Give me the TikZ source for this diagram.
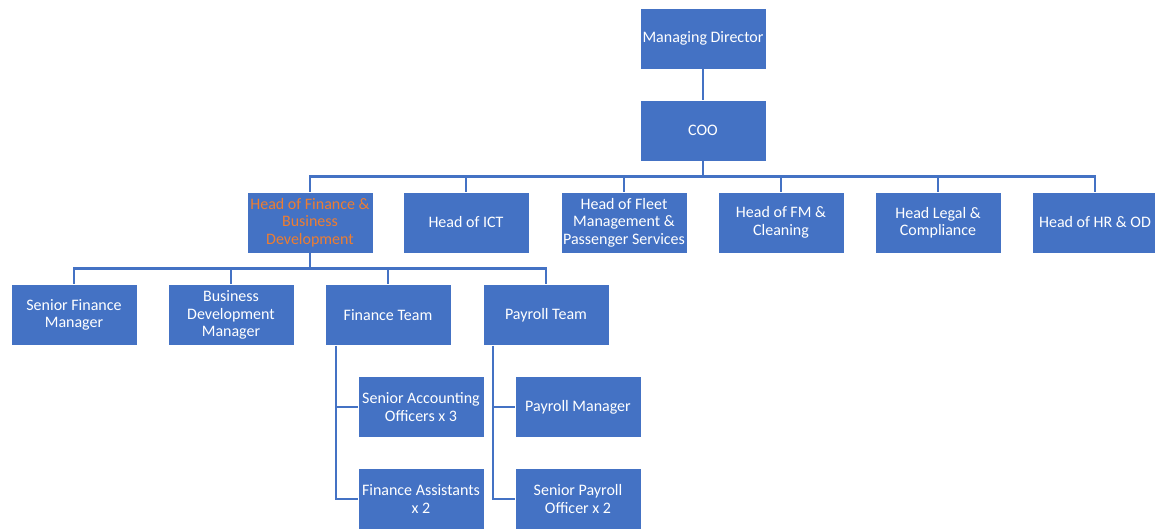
\documentclass[tikz,border=0pt]{standalone}
\usepackage{fontspec}
\setmainfont{Carlito}
\definecolor{boxblue}{HTML}{4472C4}
\definecolor{hilite}{HTML}{ED7D31}
\tikzset{
  post/.style={fill=boxblue, draw=white, line width=.4pt, text=white,
    minimum width=2.52cm, minimum height=1.22cm, inner sep=1pt,
    align=center, font=\fontsize{9.1}{9.9}\selectfont},
  link/.style={draw=boxblue, line width=1.6pt}
}
\begin{document}
\begin{tikzpicture}[x=0.02cm,y=-0.02cm]
  \useasboundingbox (0,0) rectangle (1155,530);
  % top
  \node[post] (md) at (703,38.5) {Managing Director};
  \node[post] (coo) at (703,130.5) {COO};
  \draw[link] (md) -- (coo);
  % heads
  \node[post,text=hilite] (fin) at (310,222.5) {Head of Finance \&\\Business\\Development};
  \foreach \n/\x/\t in {ict/466/Head of ICT,
      fleet/624/Head of Fleet\\Management \&\\Passenger Services,
      fm/781/Head of FM \&\\Cleaning,
      legal/938/Head Legal \&\\Compliance,
      hr/1095/Head of HR \& OD}
    \node[post] (\n) at (\x,222.5) {\t};
  \foreach \n in {fin,ict,fleet,fm,legal,hr}
    \draw[link] (coo.south) -- ++(0,15) -| (\n.north);
  % finance
  \node[post] (sfm) at (74,315) {Senior Finance\\Manager};
  \node[post] (bdm) at (231,315) {Business\\Development\\Manager};
  \node[post] (ft) at (388,315) {Finance Team};
  \node[post] (pt) at (546,315) {Payroll Team};
  \foreach \n in {sfm,bdm,ft,pt}
    \draw[link] (fin.south) -- ++(0,15) -| (\n.north);
  \node[post] (sao) at (421,407) {Senior Accounting\\Officers x 3};
  \node[post] (fa) at (421,499) {Finance Assistants\\x 2};
  \node[post] (pm) at (578,407) {Payroll Manager};
  \node[post] (spo) at (578,499) {Senior Payroll\\Officer x 2};
  \foreach \n in {sao,fa}
    \draw[link] (ft.south) ++(-52,0) |- (\n.west);
  \foreach \n in {pm,spo}
    \draw[link] (pt.south) ++(-53,0) |- (\n.west);
\end{tikzpicture}
\end{document}
